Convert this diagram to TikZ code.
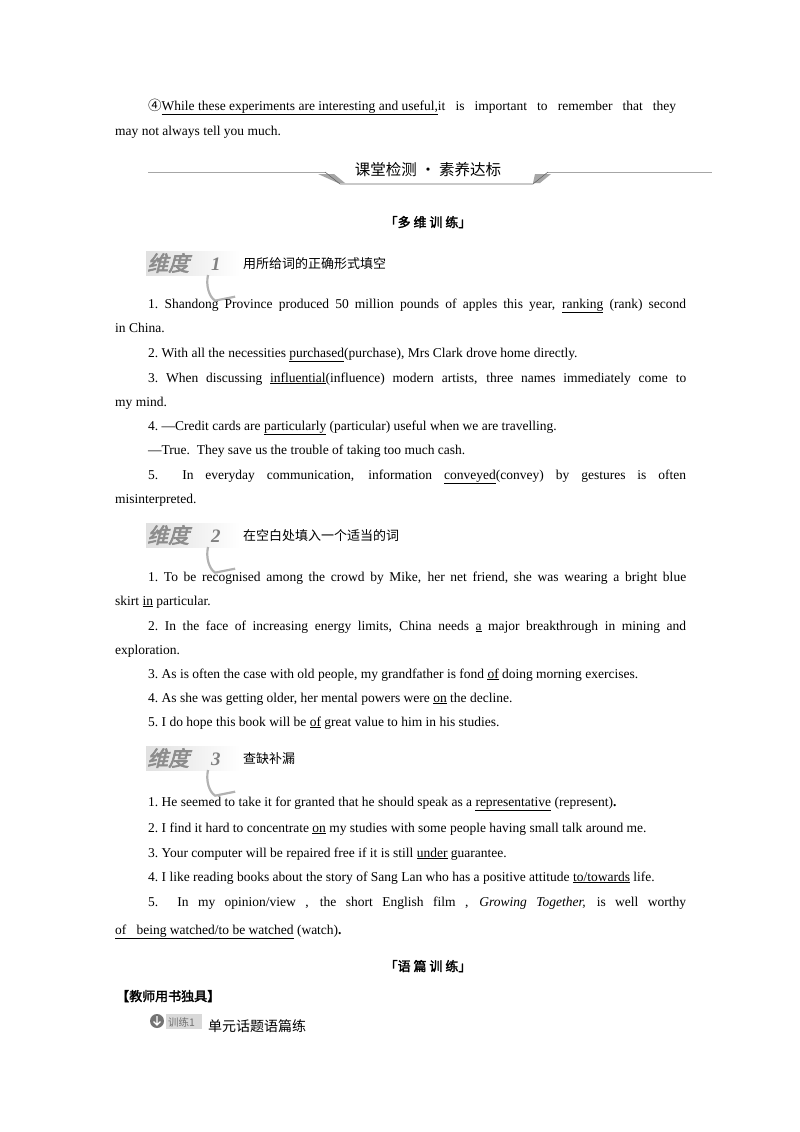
\documentclass[tikz,border=0pt]{standalone}
\usepackage{fontspec}
\setmainfont{Liberation Serif}
\newfontfamily\cjk{Noto Sans CJK SC}
\newfontfamily\cjkb[FakeBold=2]{Noto Sans CJK SC}
\newfontfamily\cjkbadge[FakeSlant=0.25,FakeBold=3]{Noto Sans CJK SC}
\newcommand{\jl}[2]{\hbox to #1pt{#2}}
\newcommand{\ul}[1]{\underline{#1}}
\begin{document}
\begin{tikzpicture}[x=1pt,y=-1pt,
  tl/.style={anchor=base west,inner sep=0pt,font=\fontsize{13.5}{16}\selectfont},
  cn/.style={anchor=base west,inner sep=0pt,font=\cjk\fontsize{13}{16}\selectfont},
  hd/.style={anchor=base,inner sep=0pt,font=\cjkb\fontsize{13}{16}\selectfont},
  bdg/.style={anchor=base west,inner sep=0pt,text=black!45,font=\cjkbadge\fontsize{21}{24}\selectfont}]
\useasboundingbox (0,0) rectangle (800,1132);
\fill[white] (0,0) rectangle (800,1132);
% top
\node[tl] (t1) at (148,110) {\jl{528}{{\cjk ④}\ul{While\ these\ experiments\ are\ interesting\ and\ useful,}it is important to remember that they}};
\node[tl] (t2) at (115,135) {may not always tell you much.};
% banner
\draw[black!35,line width=0.8pt] (148,172) -- (325,172);
\draw[black!35,line width=0.8pt] (548,172) -- (712,172);
\fill[black!35] (318,174) -- (334,174) -- (345,183) -- (338,183) -- cycle;
\fill[black!35] (535,174) -- (551,174) -- (540,183) -- (533,183) -- cycle;
\draw[black!60,line width=0.6pt] (325,172) -- (340,184) -- (533,184) -- (548,172);
\node[anchor=base,inner sep=0pt,font=\cjk\fontsize{15.5}{18}\selectfont] (ban) at (428,175) {课堂检测 · 素养达标};
\node[hd] (h1) at (428,227) {「多 维 训 练」};
\foreach \y/\n/\tx in {263/1/用所给词的正确形式填空,535/2/在空白处填入一个适当的词,758/3/查缺补漏}{
  \shade[left color=black!12,right color=white] (146,\y-12) rectangle (240,\y+12);
  \node[bdg] at (147,\y+8) {维度};
  \draw[black!30,line width=2.2pt] (208,\y+12) arc (200:110:12 and 20) -- ++(20,-4);
  \node[anchor=base west,inner sep=0pt,text=black!50,font=\itshape\bfseries\fontsize{19}{22}\selectfont] at (211,\y+7) {\n};
  \node[cn] at (243,\y+5) {\tx};
}
% section 1
\node[tl] (a1) at (148,308) {\jl{538}{1.\ Shandong Province produced 50 million pounds of apples this year, \ul{ranking} (rank) second}};
\node[tl] (a1b) at (115,332) {in China.};
\node[tl] (a2) at (148,357) {2.\ With all the necessities \ul{purchased}(purchase), Mrs Clark drove home directly.};
\node[tl] (a3) at (148,382) {\jl{538}{3.\ When discussing \ul{influential}(influence) modern artists, three names immediately come to}};
\node[tl] (a3b) at (115,406) {my mind.};
\node[tl] (a4) at (148,430) {4.\ —Credit cards are \ul{particularly} (particular) useful when we are travelling.};
\node[tl] (a4b) at (148,454) {—True.\ \ They save us the trouble of taking too much cash.};
\node[tl] (a5) at (148,479) {\jl{538}{5.\ \ In everyday communication, information \ul{conveyed}(convey) by gestures is often}};
\node[tl] (a5b) at (115,503) {misinterpreted.};
% section 2
\node[tl] (b1) at (148,581) {\jl{538}{1.\ To be recognised among the crowd by Mike, her net friend,\ she was wearing a bright blue}};
\node[tl] (b1b) at (115,605) {skirt \ul{in} particular.};
\node[tl] (b2) at (148,630) {\jl{538}{2.\ In the face of increasing energy limits, China needs \ul{a} major breakthrough in mining and}};
\node[tl] (b2b) at (115,654) {exploration.};
\node[tl] (b3) at (148,678) {3.\ As is often the case with old people, my grandfather is fond \ul{of} doing morning exercises.};
\node[tl] (b4) at (148,702) {4.\ As she was getting older, her mental powers were \ul{on} the decline.};
\node[tl] (b5) at (148,726) {5.\ I do hope this book will be \ul{of} great value to him in his studies.};
% section 3
\node[tl] (c1) at (148,806) {1.\ He seemed to take it for granted that he should speak as a \ul{representative} (represent)\textbf{.}};
\node[tl] (c2) at (148,832) {2.\ I find it hard to concentrate \ul{on} my studies with some people having small talk around me.};
\node[tl] (c3) at (148,857) {3.\ Your computer will be repaired free if it is still \ul{under} guarantee.};
\node[tl] (c4) at (148,881) {4.\ I like reading books about the story of Sang Lan who has a positive attitude \ul{to/towards} life.};
\node[tl] (c5) at (148,906) {\jl{538}{5.\ \ In my opinion/view\ , the short English film\ , \textit{Growing Together,} is well worthy}};
\node[tl] (c5b) at (115,934) {\ul{of\ \ \ being\ watched/to\ be\ watched} (watch)\textbf{.}};
\node[hd] (h2) at (428,971) {「语 篇 训 练」};
\node[cn,font=\cjkb\fontsize{13}{16}\selectfont] (tch) at (116,1001) {【教师用书独具】};
\fill[black!55] (157,1021) circle (7);
\draw[white,line width=1.2pt] (157,1016) -- (157,1025) (153.5,1021.5) -- (157,1025) -- (160.5,1021.5);
\fill[black!15] (166,1014) rectangle (202,1029);
\node[anchor=base west,inner sep=0pt,text=black!55,font=\cjk\fontsize{10.5}{12}\selectfont] (xl) at (168,1026) {训练1};
\node[cn,font=\cjk\fontsize{14}{16}\selectfont] (dy) at (208,1031) {单元话题语篇练};
\end{tikzpicture}
\end{document}
